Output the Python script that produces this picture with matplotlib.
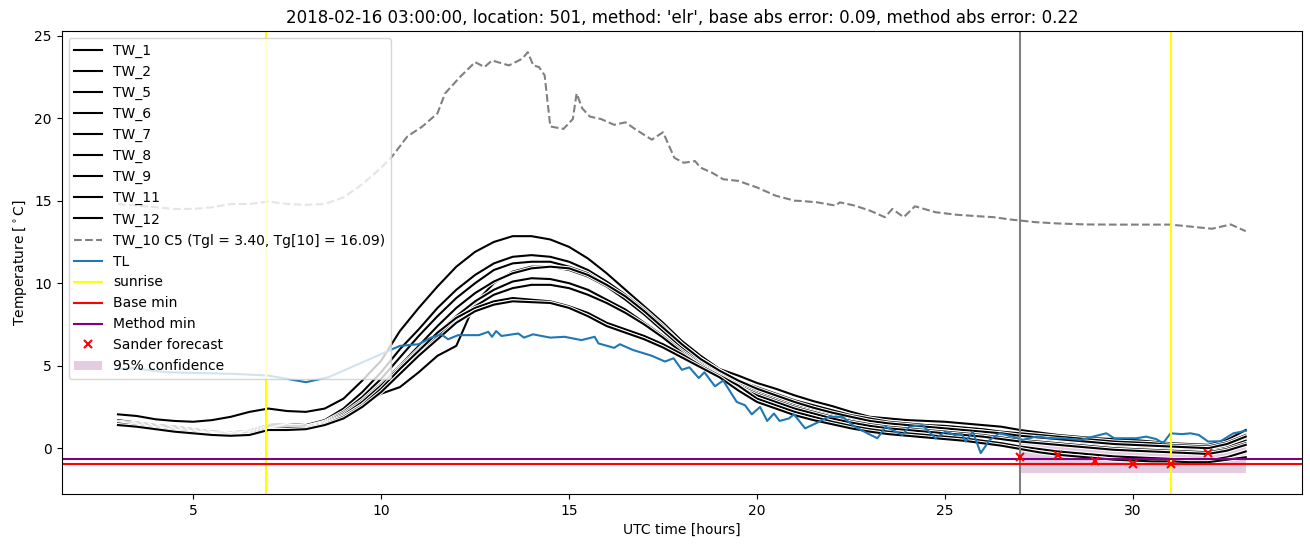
import numpy as np
import matplotlib
matplotlib.use("Agg")
import matplotlib.pyplot as plt
import matplotlib.patheffects as pe

# half-hour grid shared by the TW sensors
tw_time = np.arange(3.0, 33.01, 0.5)

tw_names = ["TW_1", "TW_2", "TW_5", "TW_6", "TW_7", "TW_8", "TW_9", "TW_11", "TW_12"]

tw_1 = [2.05, 1.95, 1.75, 1.65, 1.6, 1.7, 1.9, 2.2, 2.4, 2.25,
        2.2, 2.4, 3.0, 4.1, 5.3, 7.1, 8.5, 9.8, 11.0, 11.9,
        12.5, 12.85, 12.85, 12.65, 12.2, 11.5, 10.6, 9.6, 8.6, 7.6,
        6.5, 5.6, 4.8, 4.4, 3.95, 3.6, 3.2, 2.85, 2.55, 2.2,
        1.9, 1.8, 1.7, 1.65, 1.6, 1.5, 1.4, 1.3, 1.1, 0.95,
        0.8, 0.7, 0.6, 0.55, 0.5, 0.4, 0.3, 0.25, 0.2, 0.5,
        1.1]
tw_2 = [1.7, 1.55, 1.4, 1.3, 1.15, 1.0, 0.95, 1.05, 1.4, 1.45,
        1.4, 1.7, 2.4, 3.4, 4.6, 6.0, 7.2, 8.5, 9.6, 10.5,
        11.2, 11.6, 11.7, 11.6, 11.3, 10.8, 10.1, 9.3, 8.4, 7.4,
        6.3, 5.4, 4.7, 4.1, 3.7, 3.3, 2.9, 2.6, 2.3, 2.0,
        1.8, 1.6, 1.5, 1.4, 1.35, 1.25, 1.15, 1.0, 0.9, 0.8,
        0.7, 0.6, 0.5, 0.4, 0.35, 0.3, 0.2, 0.15, 0.1, 0.35,
        0.8]
tw_5 = [1.6, 1.5, 1.35, 1.25, 1.1, 0.95, 0.9, 1.0, 1.35, 1.4,
        1.3, 1.6, 2.2, 3.1, 4.2, 5.5, 6.8, 8.0, 9.1, 10.0,
        10.8, 11.2, 11.3, 11.3, 11.0, 10.6, 9.9, 9.1, 8.2, 7.2,
        6.2, 5.3, 4.6, 4.0, 3.5, 3.1, 2.7, 2.4, 2.1, 1.85,
        1.6, 1.45, 1.35, 1.25, 1.2, 1.1, 1.0, 0.85, 0.7, 0.6,
        0.5, 0.4, 0.3, 0.2, 0.15, 0.1, 0.05, 0.0, -0.05, 0.2,
        0.6]
tw_6 = [1.5, 1.4, 1.25, 1.15, 1.0, 0.9, 0.85, 0.95, 1.2, 1.2,
        1.25, 1.5, 2.0, 2.7, 3.3, 3.7, 4.6, 5.6, 6.2, 8.8,
        10.0, 10.7, 11.0, 11.0, 10.8, 10.4, 9.8, 9.0, 8.1, 7.1,
        6.1, 5.2, 4.5, 3.9, 3.4, 3.0, 2.6, 2.3, 2.0, 1.75,
        1.5, 1.35, 1.25, 1.15, 1.05, 0.95, 0.85, 0.7, 0.55, 0.45,
        0.35, 0.25, 0.15, 0.05, 0.0, -0.05, -0.1, -0.15, -0.2, 0.05,
        0.45]
tw_7 = [1.55, 1.45, 1.3, 1.2, 1.05, 0.9, 0.85, 0.95, 1.3, 1.35,
        1.3, 1.55, 2.1, 2.9, 3.9, 5.0, 6.2, 7.4, 8.5, 9.4,
        10.1, 10.6, 10.9, 11.0, 10.9, 10.5, 9.9, 9.2, 8.3, 7.3,
        6.3, 5.4, 4.7, 4.1, 3.6, 3.2, 2.8, 2.45, 2.15, 1.9,
        1.65, 1.5, 1.4, 1.3, 1.2, 1.1, 1.0, 0.9, 0.75, 0.65,
        0.55, 0.45, 0.35, 0.25, 0.2, 0.15, 0.1, 0.05, 0.0, 0.25,
        0.7]
tw_8 = [1.5, 1.4, 1.25, 1.15, 1.0, 0.85, 0.8, 0.9, 1.25, 1.3,
        1.3, 1.5, 2.0, 2.8, 3.8, 4.9, 6.0, 7.0, 8.0, 8.9,
        9.6, 10.1, 10.3, 10.25, 10.0, 9.6, 9.0, 8.4, 7.6, 6.8,
        5.9, 5.1, 4.4, 3.8, 3.3, 2.9, 2.5, 2.2, 1.9, 1.65,
        1.45, 1.3, 1.2, 1.1, 1.0, 0.9, 0.8, 0.65, 0.5, 0.4,
        0.3, 0.2, 0.1, 0.0, -0.05, -0.1, -0.15, -0.2, -0.25, -0.05,
        0.3]
tw_9 = [1.45, 1.35, 1.2, 1.1, 0.95, 0.85, 0.8, 0.9, 1.2, 1.25,
        1.25, 1.45, 1.9, 2.6, 3.5, 4.6, 5.7, 6.8, 7.8, 8.6,
        9.3, 9.7, 9.9, 9.9, 9.7, 9.3, 8.8, 8.2, 7.5, 6.7,
        5.8, 5.0, 4.3, 3.7, 3.2, 2.8, 2.4, 2.1, 1.8, 1.55,
        1.35, 1.2, 1.1, 1.0, 0.9, 0.8, 0.7, 0.55, 0.4, 0.3,
        0.2, 0.1, 0.0, -0.1, -0.15, -0.2, -0.25, -0.3, -0.35, -0.15,
        0.2]
tw_11 = [1.5, 1.35, 1.2, 1.05, 0.95, 0.8, 0.75, 0.85, 1.15, 1.2,
         1.2, 1.45, 1.9, 2.6, 3.6, 4.8, 5.9, 7.0, 7.9, 8.5,
         8.9, 9.1, 9.0, 8.9, 8.6, 8.2, 7.6, 7.2, 6.8, 6.3,
         5.7, 5.0, 4.4, 3.8, 3.0, 2.6, 2.2, 1.9, 1.6, 1.35,
         1.15, 1.0, 0.9, 0.8, 0.7, 0.6, 0.45, 0.3, 0.1, -0.05,
         -0.2, -0.3, -0.4, -0.5, -0.55, -0.6, -0.65, -0.7, -0.75, -0.55,
         -0.2]
tw_12 = [1.4, 1.3, 1.15, 1.0, 0.9, 0.8, 0.75, 0.8, 1.1, 1.1,
         1.15, 1.4, 1.8, 2.5, 3.4, 4.5, 5.6, 6.6, 7.6, 8.3,
         8.7, 8.9, 8.85, 8.8, 8.5, 8.0, 7.4, 7.0, 6.6, 6.1,
         5.5, 4.9, 4.3, 3.5, 2.8, 2.4, 2.0, 1.7, 1.45, 1.2,
         1.0, 0.85, 0.75, 0.65, 0.55, 0.45, 0.3, 0.15, -0.05, -0.25,
         -0.4, -0.5, -0.6, -0.7, -0.75, -0.8, -0.8, -0.85, -0.85, -0.7,
         -0.55]
tw_values = [tw_1, tw_2, tw_5, tw_6, tw_7, tw_8, tw_9, tw_11, tw_12]

# TW_10 (the excluded sensor), read at irregular times
tw10_time = [3.0, 3.5, 4.0, 4.5, 5.0, 5.5, 6.0, 6.5, 7.0, 7.5, 8.0, 8.5, 9.0, 9.5, 10.0,
             10.3, 10.7, 11.1, 11.5, 11.7, 12.1, 12.5, 12.75, 12.95, 13.4,
             13.75, 13.9, 14.05, 14.2, 14.35, 14.5, 14.85, 15.1, 15.2, 15.35,
             15.55, 15.85, 16.2, 16.5, 16.75, 17.2, 17.5, 17.8, 18.05, 18.35,
             18.5, 18.8, 19.1, 19.5, 20.0, 20.5, 21.0, 21.2, 21.6, 22.1,
             22.2, 22.6, 23.0, 23.4, 23.6, 23.9, 24.2, 24.75, 25.3, 25.8,
             26.3, 26.7, 27.4, 28.0, 28.75, 29.5, 30.0, 31.0, 31.4, 32.1,
             32.6, 33.0]
tw10_temp = [14.8, 14.7, 14.6, 14.5, 14.5, 14.6, 14.8, 14.8, 14.95, 14.8, 14.75, 14.8, 15.2, 16.0, 17.0,
             17.7, 18.9, 19.5, 20.3, 21.5, 22.5, 23.4, 23.1, 23.5, 23.2,
             23.6, 24.0, 23.2, 23.1, 22.6, 19.5, 19.35, 19.95, 21.5, 20.6,
             20.1, 19.95, 19.6, 19.75, 19.35, 18.7, 19.15, 17.6, 17.3, 17.4,
             17.0, 16.7, 16.3, 16.2, 15.8, 15.3, 15.0, 14.98, 14.9, 14.7,
             14.9, 14.7, 14.4, 14.0, 14.5, 14.0, 14.66, 14.3, 14.15, 14.07,
             14.0, 13.87, 13.7, 13.62, 13.56, 13.55, 13.55, 13.55, 13.46, 13.3,
             13.56, 13.15]

# air temperature TL
tl_time = [3.0, 3.4, 4.3, 5.2, 6.1, 7.0, 7.5, 8.0, 8.6, 9.2, 9.65, 10.25, 10.5, 11.0,
           11.33, 11.6, 11.78, 12.05, 12.6, 12.85, 12.95, 13.06, 13.2, 13.65, 13.8,
           14.04, 14.5, 14.88, 15.33, 15.68, 15.78, 16.2, 16.35, 16.7, 17.2, 17.55,
           17.78, 18.0, 18.2, 18.45, 18.6, 18.88, 19.1, 19.46, 19.68, 19.86, 20.08,
           20.27, 20.45, 20.6, 20.85, 20.98, 21.28, 21.65, 21.9, 22.27, 22.6, 22.98,
           23.2, 23.42, 23.87, 24.05, 24.4, 24.75, 25.0, 25.26, 25.45, 25.55, 25.74,
           25.95, 26.19, 26.45, 26.8, 27.07, 27.42, 27.8, 28.14, 28.59, 29.29, 29.5,
           30.09, 30.35, 30.62, 30.8, 31.0, 31.3, 31.53, 31.75, 32.0, 32.33, 32.67, 33.0]
tl_temp = [4.8, 4.85, 4.6, 4.55, 4.5, 4.4, 4.2, 4.0, 4.3, 4.9, 5.35, 5.95, 6.2, 6.3,
           6.7, 6.9, 6.6, 6.85, 6.85, 7.05, 6.75, 7.1, 6.8, 6.95, 6.7,
           6.9, 6.7, 6.75, 6.55, 6.75, 6.35, 6.08, 6.3, 5.95, 5.6, 5.25,
           5.45, 4.75, 4.9, 4.25, 4.6, 3.75, 4.1, 2.8, 2.6, 2.05, 2.5,
           1.65, 2.1, 1.65, 1.8, 2.05, 1.2, 1.6, 1.9, 1.9, 1.3, 0.85,
           0.6, 1.3, 0.8, 1.3, 1.4, 0.6, 1.0, 0.8, 0.85, 0.4, 1.0,
           -0.3, 0.5, 0.9, 0.7, 0.5, 0.7, 0.6, 0.6, 0.5, 0.9, 0.6,
           0.6, 0.7, 0.55, 0.3, 0.9, 0.85, 0.9, 0.8, 0.4, 0.42, 0.9, 1.05]

sunrise_times = [6.95, 31.0]
forecast_start = 27.0
base_min = -0.97
method_min = -0.67

sander_time = [27, 28, 29, 30, 31, 32]
sander_temp = [-0.53, -0.43, -0.79, -0.99, -0.93, -0.28]

conf_time = [27, 28, 29, 30, 31, 32, 33]
conf_low = [-1.5, -1.5, -1.5, -1.5, -1.5, -1.5, -1.5]
conf_high = [0.3, 0.3, 0.3, 0.3, 0.3, 0.3, 0.3]

fig = plt.figure(figsize=(13.1, 5.47), dpi=100)
ax = fig.add_axes([0.047, 0.097, 0.947, 0.846])

halo = [pe.withStroke(linewidth=3, foreground="white")]
for name, vals in zip(tw_names, tw_values):
    ax.plot(tw_time, vals, color="black", lw=1.5, label=name, path_effects=halo)

ax.plot(tw10_time, tw10_temp, color="gray", ls="--", lw=1.5,
        label="TW_10 C5 (Tgl = 3.40, Tg[10] = 16.09)")
ax.plot(tl_time, tl_temp, color="C0", lw=1.5, label="TL")

for i, sr in enumerate(sunrise_times):
    ax.axvline(sr, color="yellow", lw=1.5, label="sunrise" if i == 0 else None)
ax.axvline(forecast_start, color="gray", lw=1.5)

ax.axhline(base_min, color="red", lw=1.5, label="Base min")
ax.axhline(method_min, color="purple", lw=1.5, label="Method min")
ax.plot(sander_time, sander_temp, "x", color="red", ms=6, mew=1.5, label="Sander forecast")
ax.fill_between(conf_time, conf_low, conf_high, color="purple", alpha=0.2, lw=0,
                label="95% confidence")

ax.set_xlabel("UTC time [hours]")
ax.set_ylabel("Temperature [$^\\circ$C]")
ax.set_title("2018-02-16 03:00:00, location: 501, method: 'elr', "
             "base abs error: 0.09, method abs error: 0.22")
ax.legend(loc="upper left")

fig.savefig("out.png", dpi=100)
